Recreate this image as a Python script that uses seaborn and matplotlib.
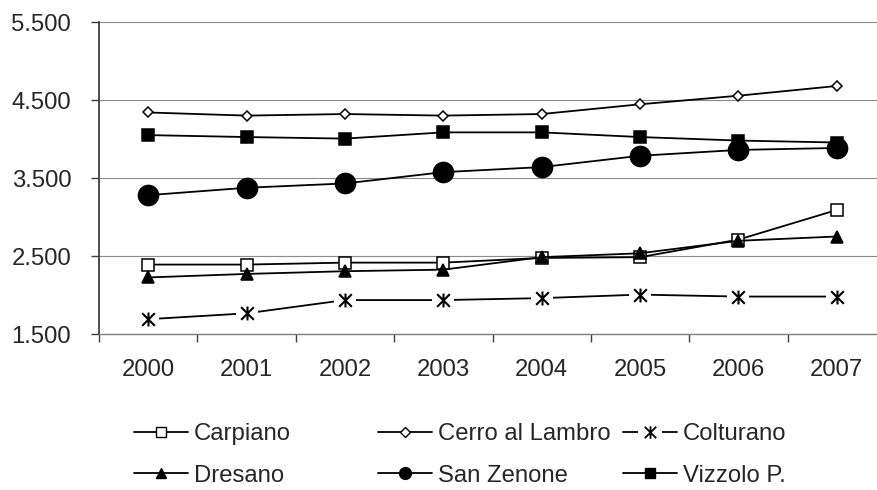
import matplotlib
matplotlib.use('Agg')
import matplotlib.pyplot as plt
import seaborn as sns
import pandas as pd
from matplotlib.lines import Line2D
from matplotlib.path import Path
from matplotlib.ticker import FixedLocator, FuncFormatter

# dati
anni = ['2000', '2001', '2002', '2003', '2004', '2005', '2006', '2007']
carpiano = [2390, 2390, 2415, 2415, 2475, 2485, 2710, 3090]
cerro = [4340, 4300, 4320, 4300, 4320, 4445, 4555, 4680]
colturano = [1690, 1765, 1935, 1935, 1960, 2005, 1980, 1980]
dresano = [2225, 2270, 2305, 2325, 2485, 2535, 2695, 2750]
san_zenone = [3280, 3375, 3430, 3575, 3640, 3785, 3860, 3885]
vizzolo = [4050, 4025, 4005, 4085, 4085, 4025, 3980, 3955]

y_ticks = [1500, 2500, 3500, 4500, 5500]

df = pd.DataFrame({
    'anno': anni,
    'Carpiano': carpiano,
    'Cerro al Lambro': cerro,
    'Colturano': colturano,
    'Dresano': dresano,
    'San Zenone': san_zenone,
    'Vizzolo P.': vizzolo,
})

sns.set_style('white')
plt.rcParams['font.family'] = ['Liberation Sans', 'DejaVu Sans']
FS = 17.2

# asterisco stile Excel: X + barra verticale
star = Path([(-1, -1), (1, 1), (-1, 1), (1, -1), (0, -1.1), (0, 1.1)],
            [Path.MOVETO, Path.LINETO, Path.MOVETO, Path.LINETO, Path.MOVETO, Path.LINETO])

# (marker, size nel grafico, riempimento, size in legenda)
stili = {
    'Carpiano': ('s', 8.2, 'white', 6.5),
    'Cerro al Lambro': ('D', 5.6, 'white', 4.6),
    'Colturano': (star, 10.0, 'black', 9.0),
    'Dresano': ('^', 8.5, 'black', 7.0),
    'San Zenone': ('o', 14.5, 'black', 8.5),
    'Vizzolo P.': ('s', 8.6, 'black', 6.5),
}

fig = plt.figure(figsize=(8.77, 4.90), dpi=100)
ax = fig.add_axes([99 / 877, 156 / 490, 787 / 877, 312 / 490])

LW = 1.3
for i, (nome, (mk, ms, fc, _)) in enumerate(stili.items()):
    if nome == 'Colturano':
        sns.lineplot(data=df, x='anno', y=nome, color='black', linewidth=LW,
                     ax=ax, legend=False, zorder=3 + i)
        # riquadro bianco attorno al marker (interruzione della linea)
        sns.lineplot(data=df, x='anno', y=nome, linestyle='', marker='s',
                     markersize=16.5, markerfacecolor='white', markeredgewidth=0,
                     ax=ax, legend=False, zorder=3.2 + i)
        sns.lineplot(data=df, x='anno', y=nome, linestyle='', marker=mk,
                     markersize=ms, color='black', markeredgecolor='black',
                     markeredgewidth=1.5, ax=ax, legend=False, zorder=3.4 + i)
    else:
        sns.lineplot(data=df, x='anno', y=nome, color='black', linewidth=LW,
                     marker=mk, markersize=ms, markerfacecolor=fc,
                     markeredgecolor='black', markeredgewidth=1.1,
                     ax=ax, legend=False, zorder=3 + i)

ax.set(xlabel='', ylabel='')
ax.set_xlim(-0.5, 7.5)
ax.set_ylim(1500, 5500)
ax.set_yticks(y_ticks)
ax.yaxis.set_major_formatter(FuncFormatter(lambda v, p: f'{v:,.0f}'.replace(',', '.')))

ax.yaxis.grid(True, color='#8c8c8c', linewidth=0.8)
ax.xaxis.grid(False)
ax.set_axisbelow(True)
for s in ['top', 'right']:
    ax.spines[s].set_visible(False)
ax.spines['left'].set_color('#404040')
ax.spines['left'].set_linewidth(1.3)
ax.spines['bottom'].set_color('#808080')
ax.spines['bottom'].set_linewidth(1.0)

ax.tick_params(axis='y', direction='out', length=6, width=1, color='#404040',
               pad=14, labelsize=FS, left=True)
ax.tick_params(axis='x', which='major', length=0, pad=18, labelsize=FS)
ax.xaxis.set_minor_locator(FixedLocator([k + 0.5 for k in range(-1, 8)]))
ax.tick_params(axis='x', which='minor', direction='out', length=6, width=1,
               color='#404040', bottom=True)

# legenda: tre colonne di uguale larghezza
def handle(nome):
    mk, _, fc, lms = stili[nome]
    if nome == 'Colturano':
        return (Line2D([], [], color='black', lw=LW),
                Line2D([], [], ls='', marker='s', ms=17, mfc='white', mew=0),
                Line2D([], [], ls='', marker=mk, ms=lms, color='black', mew=1.3))
    return Line2D([], [], color='black', lw=LW, marker=mk, ms=lms,
                  mfc=fc, mec='black', mew=1.0)

colonne = [['Carpiano', 'Dresano'], ['Cerro al Lambro', 'San Zenone'],
           ['Colturano', 'Vizzolo P.']]
x_col = [134, 378, 623]
for nomi, xc in zip(colonne, x_col):
    leg = fig.legend([handle(n) for n in nomi], nomi, loc='center left',
                     bbox_to_anchor=(xc / 877, 1 - 455 / 490), frameon=False,
                     fontsize=FS, handlelength=2.26, handletextpad=0.25,
                     borderpad=0, borderaxespad=0, labelspacing=0.8)

fig.savefig('out.png', dpi=100)
plt.close(fig)
